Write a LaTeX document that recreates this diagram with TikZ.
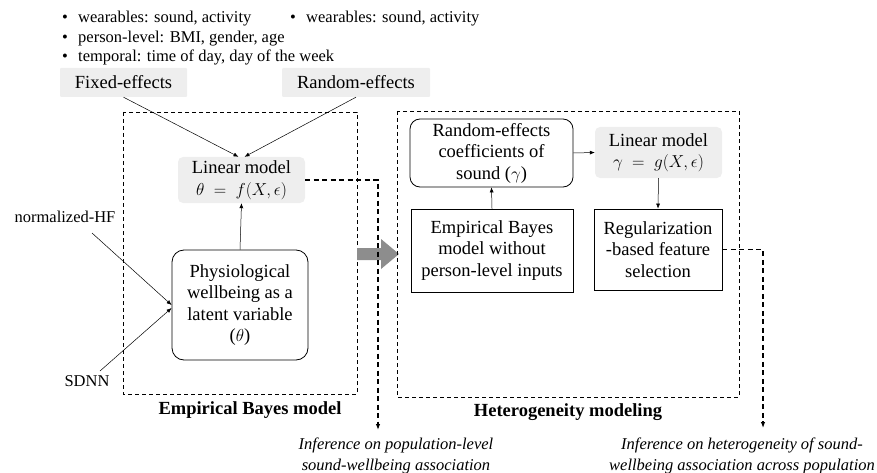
\documentclass[tikz,border=0pt]{standalone}
\usepackage{fontspec}
\setmainfont{Liberation Serif}
\usetikzlibrary{arrows.meta,calc}
\begin{document}
\begin{tikzpicture}[x=1pt,y=-1pt,
  txt/.style={font=\fontsize{18.5}{21.5}\selectfont, align=center, inner sep=0pt},
  graybox/.style={txt, fill=gray!13, rounded corners=5pt},
  rbox/.style={txt, draw, rounded corners=12pt, line width=0.8pt},
  sbox/.style={txt, draw, line width=0.8pt},
  dashbox/.style={draw, dash pattern=on 4pt off 3pt, line width=0.8pt},
  arr/.style={-{Latex[length=5pt,width=4pt]}, line width=0.5pt},
  darr/.style={dash pattern=on 5pt off 3.5pt, line width=1.1pt, -{Latex[length=6pt,width=4.5pt]}},
  bul/.style={font=\fontsize{16.5}{19}\selectfont, anchor=base west, inner sep=0pt},
  inf/.style={font=\fontsize{16.5}{21}\selectfont\itshape, align=center, inner sep=0pt},
  ttl/.style={font=\fontsize{18.5}{21}\selectfont\bfseries, inner sep=0pt}
]
\useasboundingbox (0,0) rectangle (877,473);

% bullet lists
\node[bul] (b1) at (62,22.5) {\makebox[16pt][l]{•}wearables: sound, activity};
\node[bul] (b2) at (62,42.5) {\makebox[16pt][l]{•}person-level: BMI, gender, age};
\node[bul] (b3) at (62,61.5) {\makebox[16pt][l]{•}temporal: time of day, day of the week};
\node[bul] (b4) at (290,22.5) {\makebox[16pt][l]{•}wearables: sound, activity};

% effects boxes
\node[graybox, rounded corners=1pt, minimum width=127pt, minimum height=29pt] (fe) at (123.5,82.5) {Fixed-effects};
\node[graybox, rounded corners=1pt, minimum width=148pt, minimum height=29pt] (ref) at (356,82.5) {Random-effects};

% left dashed box
\draw[dashbox] (123,112) rectangle (357,394);
\node[graybox, minimum width=127pt, minimum height=46pt] (lm) at (241.5,180) {Linear model\\$\theta\ =\ f(X,\epsilon)$};
\node[rbox, minimum width=136pt, minimum height=110pt] (ph) at (240,305) {Physiological\\wellbeing as a\\latent variable\\($\theta$)};

\draw[arr] (fe.south) -- ($(lm.north)+(-3,0)$);
\draw[arr] (ref.south) -- ($(lm.north)+(3,0)$);
\draw[arr] (ph.north) -- (lm.south);

\node[txt, font=\fontsize{16.5}{19}\selectfont] (nhf) at (65,217) {normalized-HF};
\node[txt, font=\fontsize{16.5}{19}\selectfont] (sd) at (87,381) {SDNN};
\coordinate (nhfs) at (92,233);
\coordinate (sds) at (100,371);
\draw[arr] (nhfs) -- ($(ph.west)+(0,0)$);
\draw[arr] (sds) -- ($(ph.west)+(0,3)$);

\node[ttl] (t1) at (250,410) {Empirical Bayes model};

% big gray arrow
\fill[gray!95!black!85] (357,248) -- (381,248) -- (381,239) -- (399,254) -- (381,269) -- (381,260) -- (357,260) -- cycle;

% right dashed box
\draw[dashbox] (397,111) rectangle (739,397);
\node[rbox, rounded corners=10pt, minimum width=163pt, minimum height=68pt] (rec) at (491.5,153) {Random-effects\\coefficients of\\sound ($\gamma$)};
\node[graybox, minimum width=127pt, minimum height=51pt] (lmg) at (658.5,152.5) {Linear model\\$\gamma\ =\ g(X,\epsilon)$};
\node[sbox, minimum width=162pt, minimum height=83pt] (eb) at (492,250.5) {Empirical Bayes\\model without\\person-level inputs};
\node[sbox, minimum width=128pt, minimum height=81pt] (reg) at (658,249.5) {Regularization\\-based feature\\selection};

\draw[arr] (rec.east) -- (lmg.west);
\draw[arr] (eb.north) -- (rec.south);
\draw[arr] (lmg.south) -- (reg.north);

\node[ttl] (t2) at (568,412) {Heterogeneity modeling};

% dashed outputs
\coordinate (o1) at (378,430);
\coordinate (o2) at (763,428);
\draw[darr] (lm.east) -| (o1);
\draw[darr] (reg.east) -| (o2);
\node[inf] (i1) at (396,455.5) {Inference on population-level\\sound-wellbeing association};
\node[inf] (i2) at (742,455.5) {Inference on heterogeneity of sound-\\wellbeing association across population};
\end{tikzpicture}
\end{document}
